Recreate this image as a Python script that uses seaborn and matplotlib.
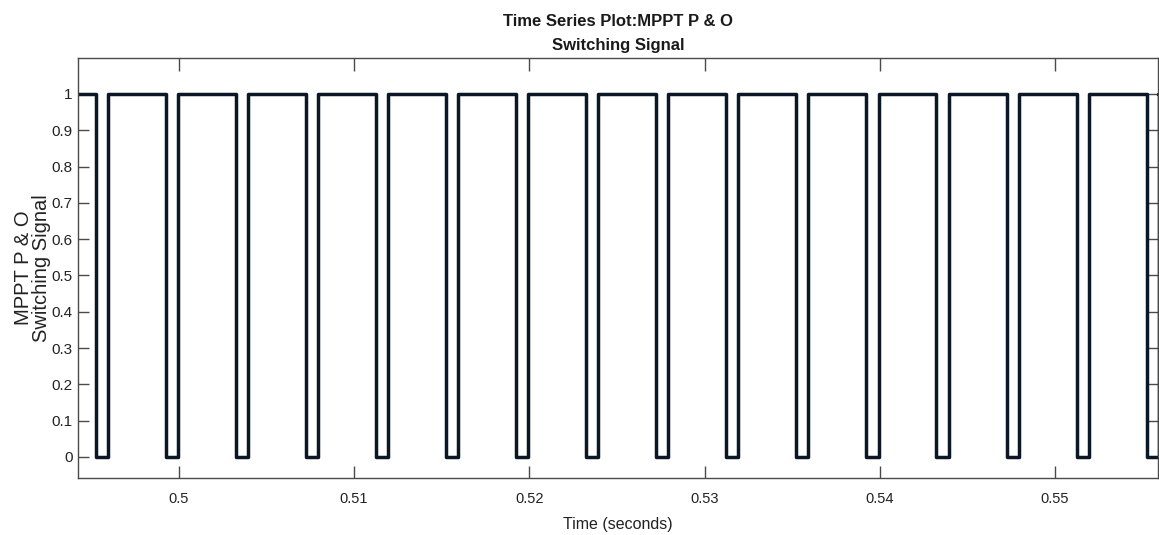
import matplotlib
matplotlib.use("Agg")
import matplotlib.pyplot as plt
import seaborn as sns
import pandas as pd

# Switching instants of the MPPT P&O gate signal (seconds)
fall_times = [0.49524, 0.49924, 0.50324, 0.50724, 0.51124, 0.51524, 0.51924, 0.52324,
              0.52724, 0.53124, 0.53524, 0.53924, 0.54324, 0.54724, 0.55124, 0.55524]
rise_times = [0.49593, 0.49993, 0.50393, 0.50793, 0.51193, 0.51593, 0.51993, 0.52393,
              0.52793, 0.53193, 0.53593, 0.53993, 0.54393, 0.54793, 0.55193, 0.55593]
high_level = 1
low_level = 0
t_start, t_end = 0.49424, 0.55588

x_ticks = [0.5, 0.51, 0.52, 0.53, 0.54, 0.55]
x_tick_labels = ["0.5", "0.51", "0.52", "0.53", "0.54", "0.55"]
y_ticks = [0, 0.1, 0.2, 0.3, 0.4, 0.5, 0.6, 0.7, 0.8, 0.9, 1]
y_tick_labels = ["0", "0.1", "0.2", "0.3", "0.4", "0.5", "0.6", "0.7", "0.8", "0.9", "1"]

# Build the step waveform from the switching instants
t = [t_start]
s = [high_level]
for f, r in zip(fall_times, rise_times):
    t += [f, f, r, r]
    s += [high_level, low_level, low_level, high_level]
t.append(t_end)
s.append(high_level)
df = pd.DataFrame({"time": t, "signal": s})

sns.set_theme(style="white")
plt.rcParams["font.family"] = ["Liberation Sans", "DejaVu Sans"]

fig = plt.figure(figsize=(11.59, 5.35), dpi=100)
ax = fig.add_axes([0.0673, 0.1065, 0.9318, 0.7851])

sns.lineplot(data=df, x="time", y="signal", ax=ax, sort=False, estimator=None,
             color="#0b1626", linewidth=2.5)
for line in ax.get_lines():
    line.set_solid_joinstyle("round")
    line.set_solid_capstyle("round")

ax.set_xlim(t_start, t_end)
ax.set_ylim(-0.058, 1.099)
ax.set_xticks(x_ticks)
ax.set_xticklabels(x_tick_labels)
ax.set_yticks(y_ticks)
ax.set_yticklabels(y_tick_labels)

for side in ["top", "bottom", "left", "right"]:
    ax.spines[side].set_visible(True)
    ax.spines[side].set_color("#4a4a4a")
    ax.spines[side].set_linewidth(1.0)

ax.tick_params(axis="x", direction="in", length=9, width=1.0, color="#4a4a4a",
               top=True, bottom=True, labelsize=10.5, labelcolor="#222222", pad=10)
ax.tick_params(axis="y", direction="in", length=8, width=1.0, color="#4a4a4a",
               left=True, right=True, labelsize=11, labelcolor="#222222", pad=4)

ax.set_xlabel("Time (seconds)", fontsize=11.5, color="#222222", labelpad=8)
ax.set_ylabel("MPPT P & O\nSwitching Signal", fontsize=14.5, color="#222222",
              labelpad=0, linespacing=0.95)
ax.set_title("Time Series Plot:MPPT P & O\nSwitching Signal", fontsize=12,
             fontweight="bold", color="#1a1a1a", pad=6, linespacing=1.75)

fig.savefig("out.png", dpi=100, facecolor="white")
